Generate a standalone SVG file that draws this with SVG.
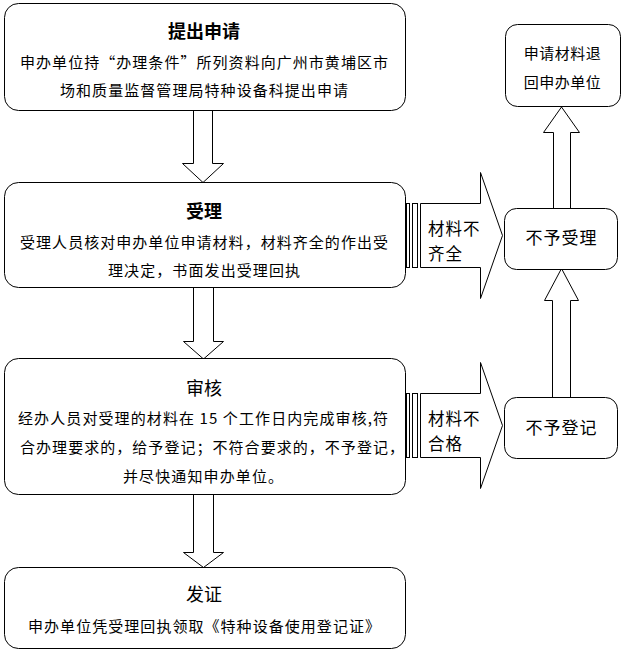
<svg xmlns="http://www.w3.org/2000/svg" width="622" height="652" viewBox="0 0 622 652">
<style>
.box{fill:#fff;stroke:#000;stroke-width:1}
.arr{fill:#fff;stroke:#000;stroke-width:1;stroke-linejoin:miter}
text{font-family:"Noto Sans CJK SC","Liberation Sans",sans-serif;fill:#000}
.t{font-size:18px;text-anchor:middle}
.b{font-size:15px}
.lbl{font-size:16.5px;letter-spacing:1px}
.side{font-size:17px;text-anchor:middle;letter-spacing:1px}
.side2{font-size:15px;text-anchor:middle;letter-spacing:0.5px}
</style>
<rect width="622" height="652" fill="#fff"/>
<g id="connectors">
  <path class="arr" d="M193.5,110.5 V163.5 H182.5 L203,182.5 L223.5,163.5 H212.5 V110.5 Z"/>
  <path class="arr" d="M193.5,287.5 V341.5 H183.5 L203.5,359 L223.5,341.5 H213.5 V287.5 Z"/>
  <path class="arr" d="M193.5,494.5 V552.5 H183.5 L203.5,567.5 L223.5,552.5 H213.5 V494.5 Z"/>
  <path class="arr" d="M553.5,208.5 V132.5 H543.5 L561.5,107 L579.5,132.5 H570.5 V208.5 Z"/>
  <path class="arr" d="M552.5,397.5 V300.5 H544.5 L561.5,268.5 L578.5,300.5 H570.5 V397.5 Z"/>
  <g id="edge-incomplete">
    <rect class="arr" x="406.5" y="203.5" width="3" height="64"/>
    <rect class="arr" x="412.5" y="203.5" width="5" height="64"/>
    <path class="arr" d="M420.5,203.5 H480.5 V172.5 L502.5,235.5 L480.5,298.5 V267.5 H420.5 Z"/>
    <text class="lbl" x="428" y="234.5">材料不</text>
    <text class="lbl" x="428" y="260">齐全</text>
  </g>
  <g id="edge-unqualified">
    <rect class="arr" x="406.5" y="393.5" width="3" height="64"/>
    <rect class="arr" x="412.5" y="393.5" width="5" height="64"/>
    <path class="arr" d="M420.5,393.5 H480.5 V362.5 L502.5,425.5 L480.5,488.5 V457.5 H420.5 Z"/>
    <text class="lbl" x="428" y="425">材料不</text>
    <text class="lbl" x="428" y="450">合格</text>
  </g>
</g>
<g id="node-apply">
  <rect class="box" x="4.5" y="3.5" width="401" height="107" rx="14"/>
  <text class="t" x="204" y="38" font-weight="bold">提出申请</text>
  <text class="b" x="20" y="68" textLength="368" lengthAdjust="spacing">申办单位持“办理条件”所列资料向广州市黄埔区市</text>
  <text class="b" x="60" y="96" textLength="288" lengthAdjust="spacing">场和质量监督管理局特种设备科提出申请</text>
</g>
<g id="node-accept">
  <rect class="box" x="4.5" y="182.5" width="401" height="105" rx="14"/>
  <text class="t" x="204" y="218" font-weight="bold">受理</text>
  <text class="b" x="20" y="248" textLength="368" lengthAdjust="spacing">受理人员核对申办单位申请材料，材料齐全的作出受</text>
  <text class="b" x="108" y="276" textLength="192" lengthAdjust="spacing">理决定，书面发出受理回执</text>
</g>
<g id="node-review">
  <rect class="box" x="4.5" y="358.5" width="401" height="136" rx="14"/>
  <text class="t" x="204" y="395">审核</text>
  <text class="b" x="18" y="424" textLength="370" lengthAdjust="spacing">经办人员对受理的材料在 15 个工作日内完成审核,符</text>
  <text class="b" x="20" y="453" textLength="384" lengthAdjust="spacing">合办理要求的，给予登记；不符合要求的，不予登记，</text>
  <text class="b" x="123" y="482" textLength="160" lengthAdjust="spacing">并尽快通知申办单位。</text>
</g>
<g id="node-issue">
  <rect class="box" x="4.5" y="567.5" width="401" height="81" rx="14"/>
  <text class="t" x="204" y="601">发证</text>
  <text class="b" x="28" y="632" textLength="352" lengthAdjust="spacing">申办单位凭受理回执领取《特种设备使用登记证》</text>
</g>
<g id="node-return">
  <rect class="box" x="505.5" y="24.5" width="115" height="82" rx="12"/>
  <text class="side2" x="562.5" y="59">申请材料退</text>
  <text class="side2" x="562.5" y="88">回申办单位</text>
</g>
<g id="node-reject-accept">
  <rect class="box" x="504.5" y="208.5" width="113" height="61" rx="12"/>
  <text class="side" x="561.5" y="243.5">不予受理</text>
</g>
<g id="node-reject-register">
  <rect class="box" x="504.5" y="397.5" width="113" height="61" rx="12"/>
  <text class="side" x="561.5" y="433.5">不予登记</text>
</g>
</svg>
